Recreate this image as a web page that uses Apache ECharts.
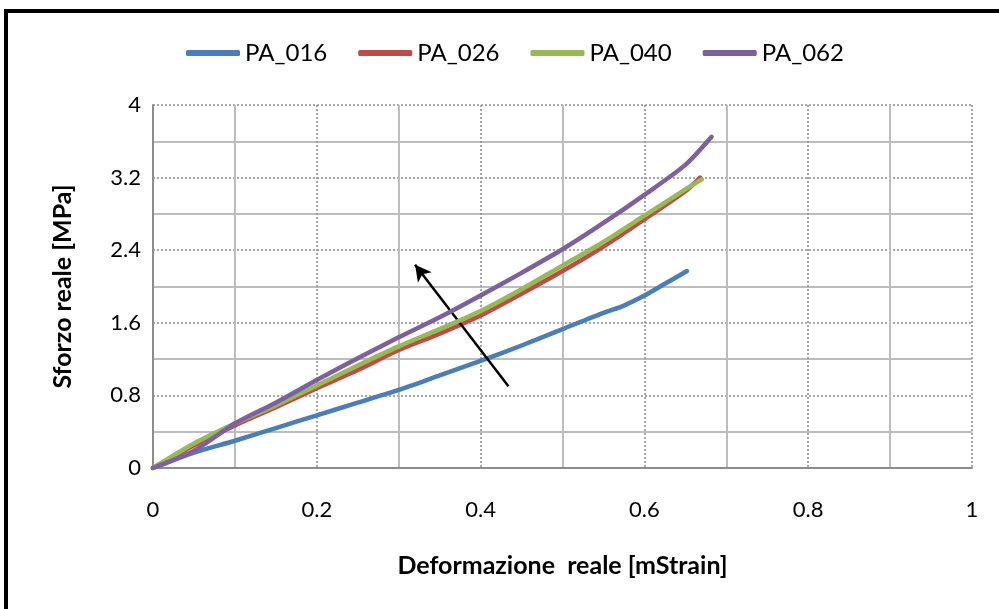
<!DOCTYPE html>
<html>
<head>
<meta charset="utf-8">
<script src="https://cdn.jsdelivr.net/npm/echarts@6/dist/echarts.min.js"></script>
<style>
  html, body { margin: 0; padding: 0; background: #fff; }
  #chart { width: 999px; height: 609px; }
</style>
</head>
<body>
<div id="chart"></div>
<script>
// True strain [mStrain] vs true stress [MPa] for four specimens
const seriesNames = ['PA_016', 'PA_026', 'PA_040', 'PA_062'];

const strain016 = [0, 0.05, 0.1, 0.15, 0.2, 0.25, 0.3, 0.35, 0.4, 0.45, 0.5, 0.55, 0.575, 0.6, 0.625, 0.652];
const stress016 = [0, 0.17, 0.30, 0.44, 0.58, 0.72, 0.86, 1.02, 1.18, 1.35, 1.53, 1.71, 1.79, 1.90, 2.03, 2.17];

const strain026 = [0, 0.05, 0.1, 0.15, 0.2, 0.25, 0.3, 0.35, 0.4, 0.45, 0.5, 0.55, 0.6, 0.65, 0.668];
const stress026 = [0, 0.25, 0.47, 0.67, 0.88, 1.08, 1.30, 1.48, 1.68, 1.92, 2.17, 2.44, 2.74, 3.05, 3.20];

const strain040 = [0, 0.05, 0.1, 0.15, 0.2, 0.25, 0.3, 0.35, 0.4, 0.45, 0.5, 0.55, 0.6, 0.65, 0.67];
const stress040 = [0, 0.27, 0.49, 0.69, 0.91, 1.13, 1.34, 1.53, 1.73, 1.97, 2.23, 2.49, 2.78, 3.07, 3.18];

const strain062 = [0, 0.05, 0.1, 0.15, 0.2, 0.25, 0.3, 0.35, 0.4, 0.45, 0.5, 0.55, 0.6, 0.65, 0.682];
const stress062 = [0, 0.19, 0.49, 0.72, 0.97, 1.21, 1.44, 1.66, 1.90, 2.15, 2.41, 2.70, 3.01, 3.34, 3.65];

// Trend arrow (tail -> head) in data units
const arrowTail = [0.434, 0.90];
const arrowHead = [0.32, 2.24];

const xTicks = { min: 0, max: 1, interval: 0.2 };
const yTicks = { min: 0, max: 4, interval: 0.8 };

const colors = ['#4a7ebb', '#be4b48', '#98b954', '#7d60a0'];
const font = 'Lato, "Open Sans", "Liberation Sans", sans-serif';

function pairs(xs, ys) { return xs.map((x, i) => [x, ys[i]]); }

const dataSets = [
  pairs(strain016, stress016),
  pairs(strain026, stress026),
  pairs(strain040, stress040),
  pairs(strain062, stress062)
];

const series = seriesNames.map((name, i) => ({
  name: name,
  type: 'line',
  data: dataSets[i],
  showSymbol: false,
  symbol: 'none',
  smooth: 0.25,
  lineStyle: { width: 4.5, color: colors[i], cap: 'round', join: 'round' },
  itemStyle: { color: colors[i] },
  z: 3 + i
}));

series.push({
  name: 'arrow',
  type: 'line',
  data: [],
  markLine: {
    silent: true,
    symbol: ['none', 'arrow'],
    symbolSize: [13, 16],
    label: { show: false },
    lineStyle: { color: '#000', width: 2.5, type: 'solid' },
    data: [[{ coord: arrowTail }, { coord: arrowHead }]]
  },
  z: 10
});

const chart = echarts.init(document.getElementById('chart'), null, { renderer: 'canvas' });
chart.setOption({
  animation: false,
  backgroundColor: '#fff',
  color: colors,
  textStyle: { fontFamily: font },
  legend: {
    data: seriesNames,
    top: 36,
    left: 181,
    icon: 'roundRect',
    itemWidth: 54,
    itemHeight: 6,
    itemGap: 31,
    textStyle: { fontSize: 24, color: '#000', fontFamily: font }
  },
  grid: { left: 153, right: 27, top: 105, bottom: 141, containLabel: false },
  xAxis: {
    type: 'value',
    min: xTicks.min, max: xTicks.max, interval: xTicks.interval,
    name: 'Deformazione  reale [mStrain]',
    nameLocation: 'middle',
    nameGap: 85,
    nameTextStyle: { fontSize: 25, fontWeight: 'bold', color: '#000', fontFamily: font },
    axisLine: { lineStyle: { color: '#8c8c8c', width: 2 } },
    axisTick: { show: false },
    axisLabel: { fontSize: 22, color: '#000', margin: 31, fontFamily: font },
    splitLine: { show: true, lineStyle: { color: '#8c8c8c', type: [2, 2], width: 1.5 } },
    minorTick: { show: false, splitNumber: 2 },
    minorSplitLine: { show: true, lineStyle: { color: '#bdbdbd', width: 2 } }
  },
  yAxis: {
    type: 'value',
    min: yTicks.min, max: yTicks.max, interval: yTicks.interval,
    name: 'Sforzo reale [MPa]',
    nameLocation: 'middle',
    nameGap: 78,
    nameTextStyle: { fontSize: 25, fontWeight: 'bold', color: '#000', fontFamily: font },
    axisLine: { show: true, lineStyle: { color: '#8c8c8c', width: 2 } },
    axisTick: { show: false },
    axisLabel: { fontSize: 22, color: '#000', margin: 12, fontFamily: font },
    splitLine: { show: true, lineStyle: { color: '#8c8c8c', type: [2, 2], width: 1.5 } },
    minorTick: { show: false, splitNumber: 2 },
    minorSplitLine: { show: true, lineStyle: { color: '#bdbdbd', width: 2 } }
  },
  graphic: [{
    type: 'rect',
    shape: { x: 6, y: 11, width: 1100, height: 700 },
    style: { fill: null, stroke: '#000', lineWidth: 4 },
    silent: true,
    z: 100
  }],
  series: series
});
</script>
</body>
</html>
